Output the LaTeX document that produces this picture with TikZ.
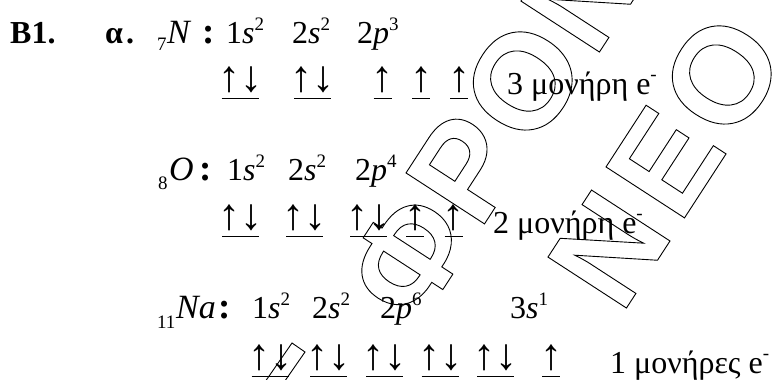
\documentclass[tikz,border=0pt]{standalone}
\usepackage{fontspec}
\setmainfont{Liberation Serif}
\newfontfamily\wmfont{Liberation Sans}
\newcommand\smallsz{\fontsize{19}{19}\selectfont}
\newcommand\term[3]{#1\textit{#2}\raisebox{13pt}{\smallsz #3}}
\newcommand\elec{e\raisebox{14pt}{\smallsz -}}
\newcommand\bcolon{\fontsize{37}{40}\selectfont\bfseries :}
\newcommand\outl[1]{\special{pdf:literal direct 1 Tr 0.9 w}#1\special{pdf:literal direct 0 Tr}}
\tikzset{
  txt/.style={inner sep=0pt, anchor=base west, font=\fontsize{32}{36}\selectfont},
  elem/.style={txt, font=\fontsize{34}{36}\selectfont\itshape},
  orb/.style={inner sep=0pt, anchor=base, text depth=7pt, font=\fontsize{44}{44}\selectfont},
  uline/.style={line width=1pt},
  wm/.style={inner sep=0pt, rotate=57, font=\wmfont\bfseries\fontsize{136}{136}\selectfont},
  wmline/.style={line width=0.9pt},
}
\begin{document}
\begin{tikzpicture}[x=1pt,y=-1pt]
\useasboundingbox[fill=white] (0,0) rectangle (774,380);
% row 1
\node[txt] (b1) at (10,43) {\textbf{B1.}};
\node[txt] (alpha) at (105,43) {\textbf{α\kern3pt.}};
\node[txt] (sub7) at (157,50) {\smallsz 7};
\node[elem] (elN) at (167,43) {N};
\node[txt] (colN) at (202,43) {\bcolon};
\node[txt] (t11) at (226,43) {\term{1}{s}{2}};
\node[txt] (t12) at (292,43) {\term{2}{s}{2}};
\node[txt] (t13) at (357,43) {\term{2}{p}{3}};
\node[orb] (o11) at (240,91) {↑↓};
\node[orb] (o12) at (312.5,91) {↑↓};
\node[orb] (o13) at (382.5,91) {↑};
\node[orb] (o14) at (421,91) {↑};
\node[orb] (o15) at (459,91) {↑};
\node[txt] (lab1) at (507,94) {3 μονήρη \elec};
% row 2
\node[txt] (sub8) at (158,189) {\smallsz 8};
\node[elem] (elO) at (169,180) {O};
\node[txt] (colO) at (199,180) {\bcolon};
\node[txt] (t21) at (227,180) {\term{1}{s}{2}};
\node[txt] (t22) at (288,180) {\term{2}{s}{2}};
\node[txt] (t23) at (355,180) {\term{2}{p}{4}};
\node[orb] (o21) at (240.5,229) {↑↓};
\node[orb] (o22) at (304.5,229) {↑↓};
\node[orb] (o23) at (368.5,229) {↑↓};
\node[orb] (o24) at (415,229) {↑};
\node[orb] (o25) at (453.5,229) {↑};
\node[txt] (lab2) at (493,233) {2 μονήρη \elec};
% row 3
\node[txt] (sub11) at (157,328) {\smallsz 11};
\node[elem] (elNa) at (176,318) {Na};
\node[txt] (colNa) at (218,318) {\bcolon};
\node[txt] (t31) at (252,318) {\term{1}{s}{2}};
\node[txt] (t32) at (312,318) {\term{2}{s}{2}};
\node[txt] (t33) at (380,318) {\term{2}{p}{6}};
\node[txt] (t34) at (510,318) {\term{3}{s}{1}};
\node[orb] (o31) at (270,369) {↑↓};
\node[orb] (o32) at (328.5,369) {↑↓};
\node[orb] (o33) at (384.5,369) {↑↓};
\node[orb] (o34) at (440,369) {↑↓};
\node[orb] (o35) at (495.5,369) {↑↓};
\node[orb] (o36) at (551,369) {↑};
\node[txt] (lab3) at (610,373) {1 μονήρες \elec};
\foreach \n in {o11,o12,o21,o22,o23,o31,o32,o33,o34,o35}
  \draw[uline] ([xshift=-18.5pt]\n.south) -- ([xshift=18.5pt]\n.south);
\foreach \n in {o13,o14,o15,o24,o25,o36}
  \draw[uline] ([xshift=-9pt]\n.south) -- ([xshift=9pt]\n.south);
% watermark (outlined letters)
\draw[wmline] (292,343) -- (305,352) -- (271,401) -- (258,392) -- cycle;
\node[wm] (w1) at (408,256) {\outl{Φ}};
\node[wm] (w2) at (465,168) {\outl{Ρ}};
\node[wm] (w3) at (523,81) {\outl{Ο}};
\node[wm] (w4) at (582,-7) {\outl{Ν}};
\node[wm] (w5) at (609,249) {\outl{Ν}};
\node[wm] (w6) at (665,162) {\outl{Ε}};
\node[wm] (w7) at (722,75) {\outl{Ο}};
\end{tikzpicture}
\end{document}
